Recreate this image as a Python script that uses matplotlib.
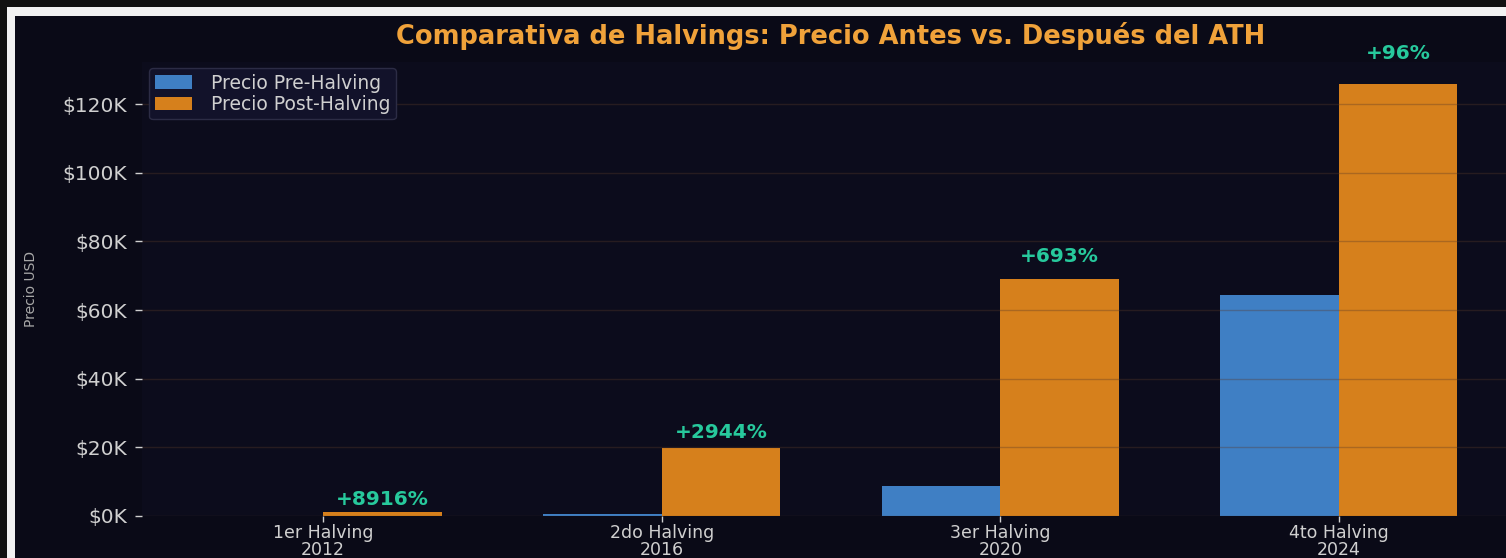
import numpy as np
import matplotlib
matplotlib.use("Agg")
import matplotlib.pyplot as plt
from matplotlib.patches import Rectangle
from matplotlib.ticker import FuncFormatter

# ---- data ----
categories = ["1er Halving\n2012", "2do Halving\n2016", "3er Halving\n2020", "4to Halving\n2024"]
pre_halving = [12.35, 650, 8700, 64300]
post_halving = [1113, 19786, 69000, 126000]
pct_labels = ["+8916%", "+2944%", "+693%", "+96%"]

# ---- style ----
BG_OUT = "#111111"
FRAME = "#f2f2f2"
BG = "#0a0a17"
AX_BG = "#0c0c1c"
BLUE = "#3f7fc4"
ORANGE = "#d6801c"
TEAL = "#27c99c"
TITLE = "#f0a23a"
TXT = "#d0d0d0"

W, H = 1506, 558
fig = plt.figure(figsize=(W / 100, H / 100), dpi=100)
fig.patch.set_facecolor(BG_OUT)
fig.patches.append(Rectangle((7 / W, 0), 1, 551 / H, transform=fig.transFigure,
                             facecolor=FRAME, edgecolor="none", zorder=-10))
fig.patches.append(Rectangle((15 / W, 0), 1, 542 / H, transform=fig.transFigure,
                             facecolor=BG, edgecolor="none", zorder=-9))

ax = fig.add_axes([142 / W, 42 / H, 1378 / W, 454 / H])
ax.set_facecolor(AX_BG)

x = np.arange(len(categories))
w = 0.35
ax.bar(x - w / 2, pre_halving, w, color=BLUE, label="Precio Pre-Halving")
ax.bar(x + w / 2, post_halving, w, color=ORANGE, label="Precio Post-Halving")

for xi, h, lab in zip(x, post_halving, pct_labels):
    ax.text(xi + w / 2, h * 1.04 + 1000, lab, ha="center", va="bottom",
            color=TEAL, fontsize=14.5, fontweight="bold", zorder=5, clip_on=False)

ax.set_xticks(x)
ax.set_xticklabels(categories, fontsize=12.5, color=TXT, linespacing=0.92)
ax.yaxis.set_major_formatter(FuncFormatter(lambda v, p: f"${v/1000:.0f}K"))
ax.tick_params(axis="both", colors=TXT, width=1)
ax.tick_params(axis="x", length=4, pad=1.5)
ax.tick_params(axis="y", labelsize=14.5, length=5, pad=5.5)

ax.set_axisbelow(False)
ax.grid(axis="y", color="#5a3a2a", alpha=0.35, linewidth=1)

for s in ["top", "right", "left", "bottom"]:
    ax.spines[s].set_visible(False)

ax.set_ylabel("Precio USD", color="#a8a8a8", fontsize=10)
ax.yaxis.set_label_coords(-0.0755, 0.5)

ax.set_title("Comparativa de Halvings: Precio Antes vs. Después del ATH",
             color=TITLE, fontsize=18.5, fontweight="bold", pad=13)

leg = ax.legend(loc="upper left", fontsize=13.5, facecolor="#12122a",
                edgecolor="#2c2c45", labelcolor=TXT, labelspacing=0.12,
                borderpad=0.3, borderaxespad=0, handlelength=2.0,
                handletextpad=1.0, bbox_to_anchor=(0.005, 0.987), framealpha=1.0)

fig.savefig("out.png", dpi=100, facecolor=fig.get_facecolor())
